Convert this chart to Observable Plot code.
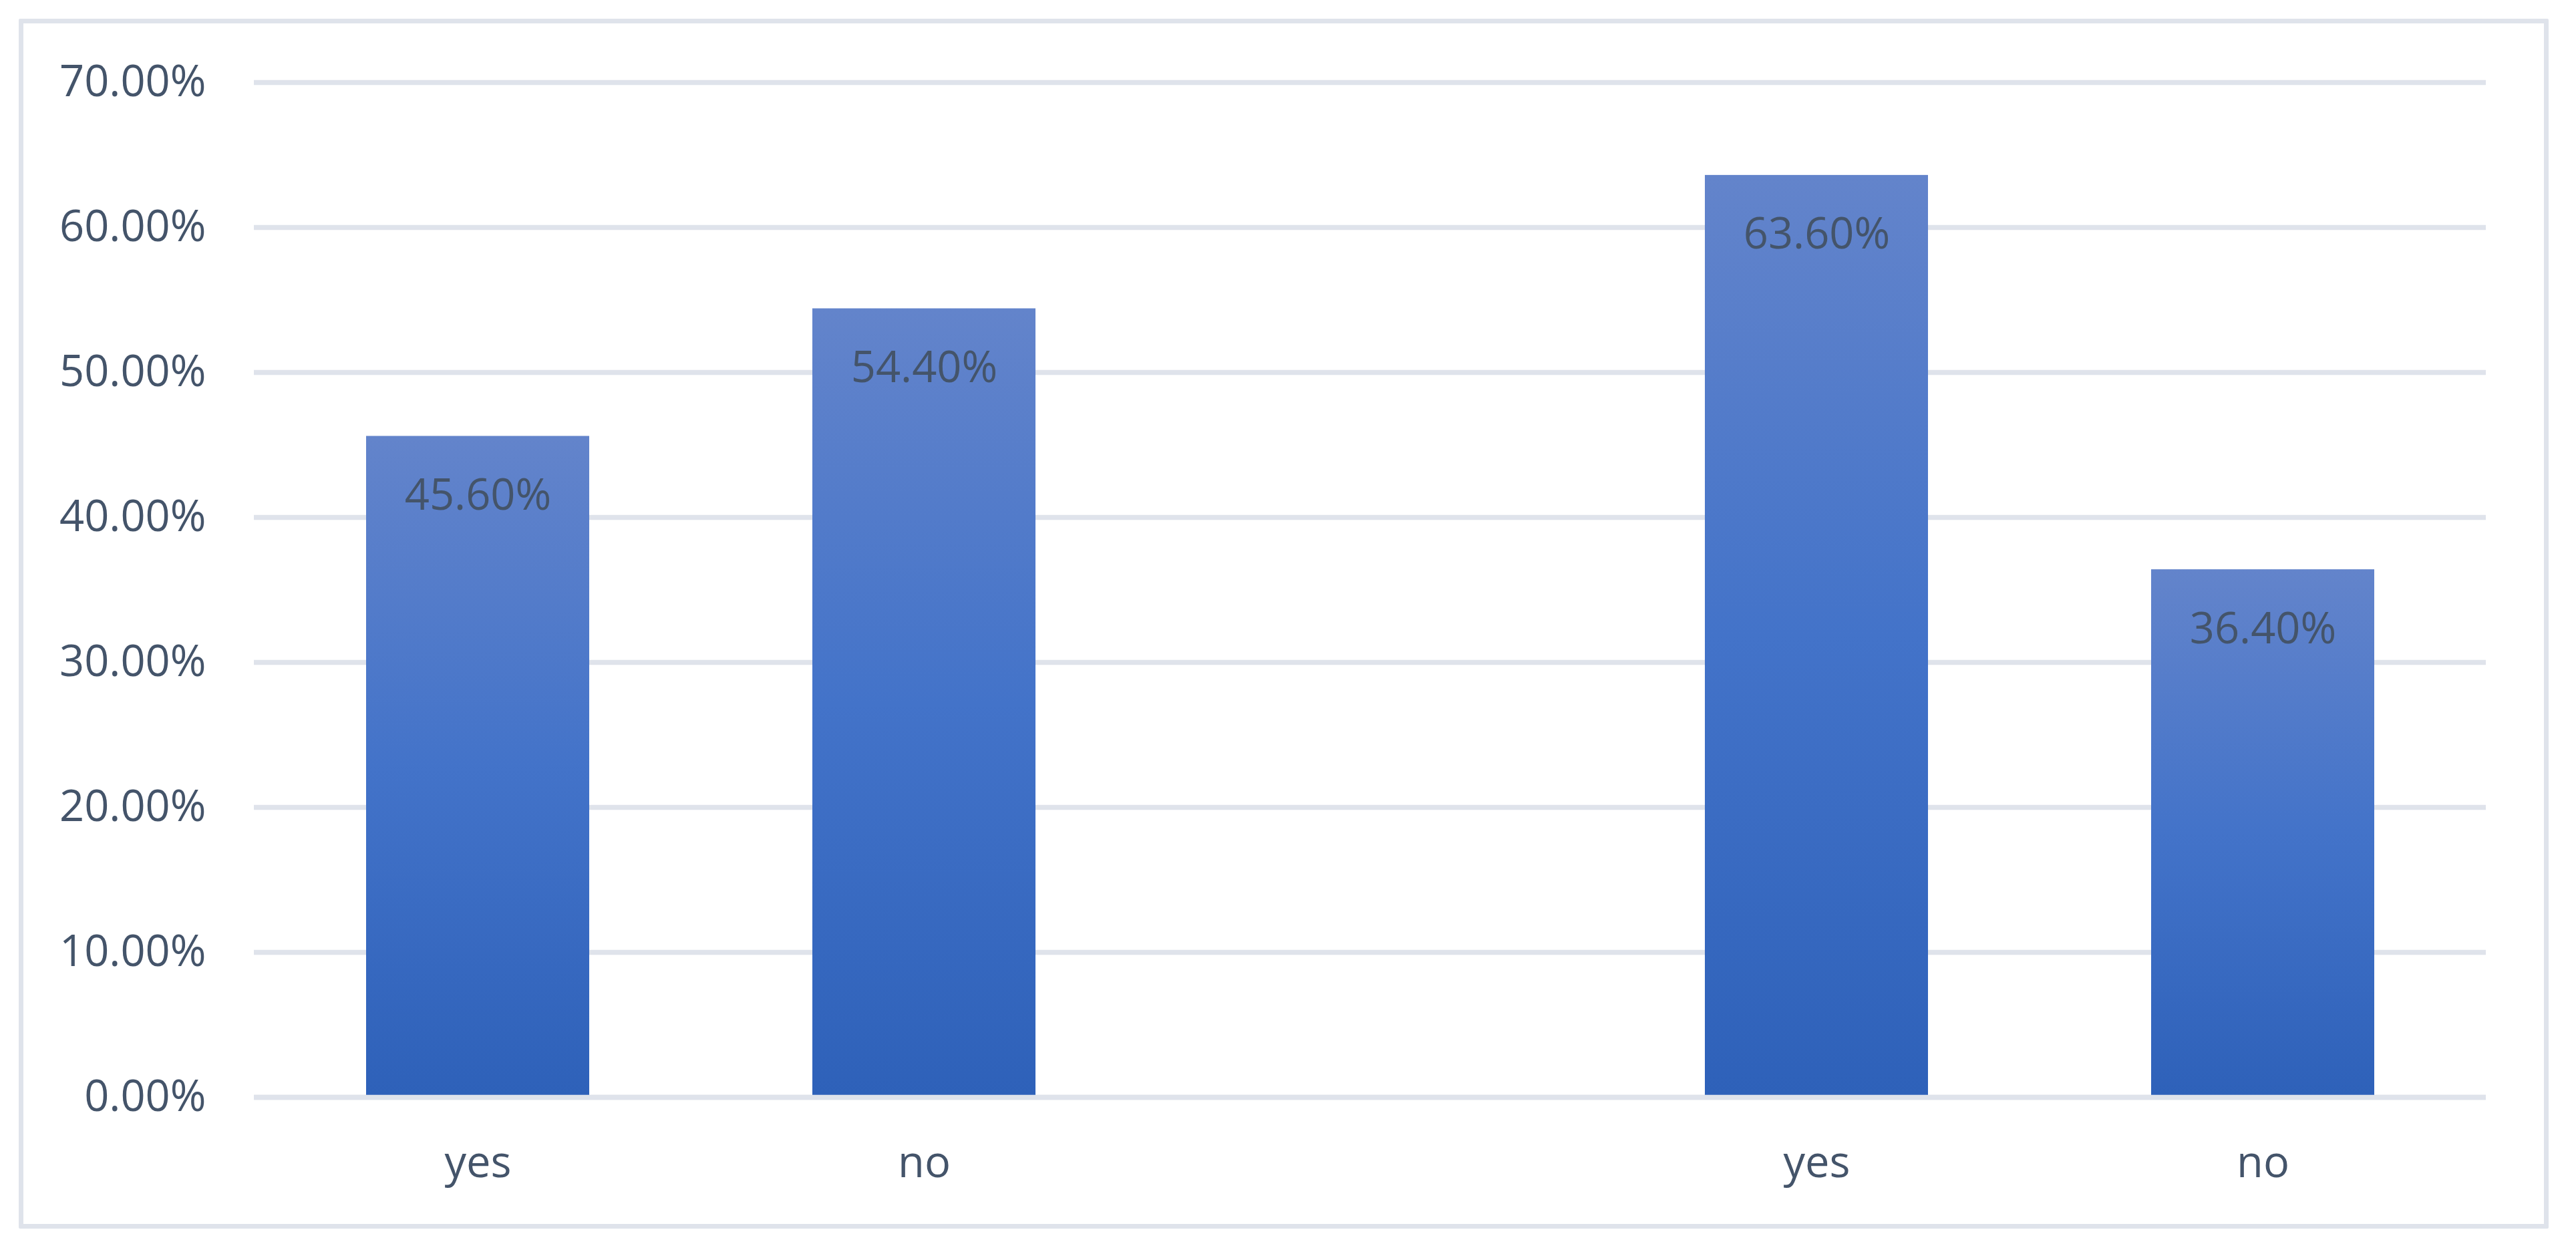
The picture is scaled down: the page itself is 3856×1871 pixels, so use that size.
<!DOCTYPE html>
<html>
<head>
<meta charset="utf-8">
<script src="https://cdn.jsdelivr.net/npm/d3@7"></script>
<script src="https://cdn.jsdelivr.net/npm/@observablehq/plot@0.6"></script>
<style>
  html, body { margin: 0; padding: 0; background: #ffffff; }
  #wrap { position: relative; width: 3856px; height: 1871px; }
  #border { position: absolute; left: 28px; top: 28px; width: 3773px; height: 1797px; border: 7px solid #dfe3eb; border-radius: 2px; }
  #chart { position: absolute; left: 0; top: 0; }
</style>
</head>
<body>
<div id="wrap"><div id="border"></div><div id="chart"></div></div>
<script>
// Data
const categories = ["yes-1", "no-1", "gap", "yes-2", "no-2"];
const tickLabels = ["yes", "no", "", "yes", "no"];
const values = [0.456, 0.544, null, 0.636, 0.364];
const yTicks = [0, 0.1, 0.2, 0.3, 0.4, 0.5, 0.6, 0.7];

const data = categories.map((c, i) => ({category: c, value: values[i]}))
  .filter(d => d.value != null);
const labelOf = new Map(categories.map((c, i) => [c, tickLabels[i]]));
const pct = d3.format(".2%");
const textColor = "#44546a";
const gridColor = "#dfe3eb";

const defs = () => {
  const g = d3.create("svg:defs");
  const lg = g.append("linearGradient")
    .attr("id", "barGrad").attr("x1", 0).attr("y1", 0).attr("x2", 0).attr("y2", 1);
  lg.append("stop").attr("offset", "0%").attr("stop-color", "#6384cb");
  lg.append("stop").attr("offset", "50%").attr("stop-color", "#4373c9");
  lg.append("stop").attr("offset", "100%").attr("stop-color", "#2e61b9");
  return g.node();
};

const chart = Plot.plot({
  width: 3856,
  height: 1871,
  marginLeft: 380,
  marginRight: 135,
  marginTop: 123,
  marginBottom: 229,
  style: {fontFamily: "'Open Sans', sans-serif", background: "transparent", overflow: "visible"},
  x: {domain: categories, paddingInner: 0.5, paddingOuter: 0.25, label: null},
  y: {domain: [0, 0.7], label: null},
  marks: [
    defs,
    Plot.gridY(yTicks, {stroke: gridColor, strokeOpacity: 1, strokeWidth: 7.5}),
    Plot.barY(data, {x: "category", y: "value", fill: "url(#barGrad)"}),
    Plot.ruleY([0], {stroke: gridColor, strokeWidth: 7.5}),
    Plot.text(data, {x: "category", y: "value", text: d => pct(d.value), dy: 110,
      lineAnchor: "bottom", fill: textColor, fontSize: 65}),
    Plot.axisY(yTicks, {tickFormat: ".2%", tickSize: 0, tickPadding: 72, fontSize: 65,
      color: textColor, label: null}),
    Plot.axisX({tickFormat: d => labelOf.get(d), tickSize: 0, tickPadding: 73, fontSize: 65,
      color: textColor, label: null})
  ]
});
document.getElementById("chart").appendChild(chart);
</script>
</body>
</html>
